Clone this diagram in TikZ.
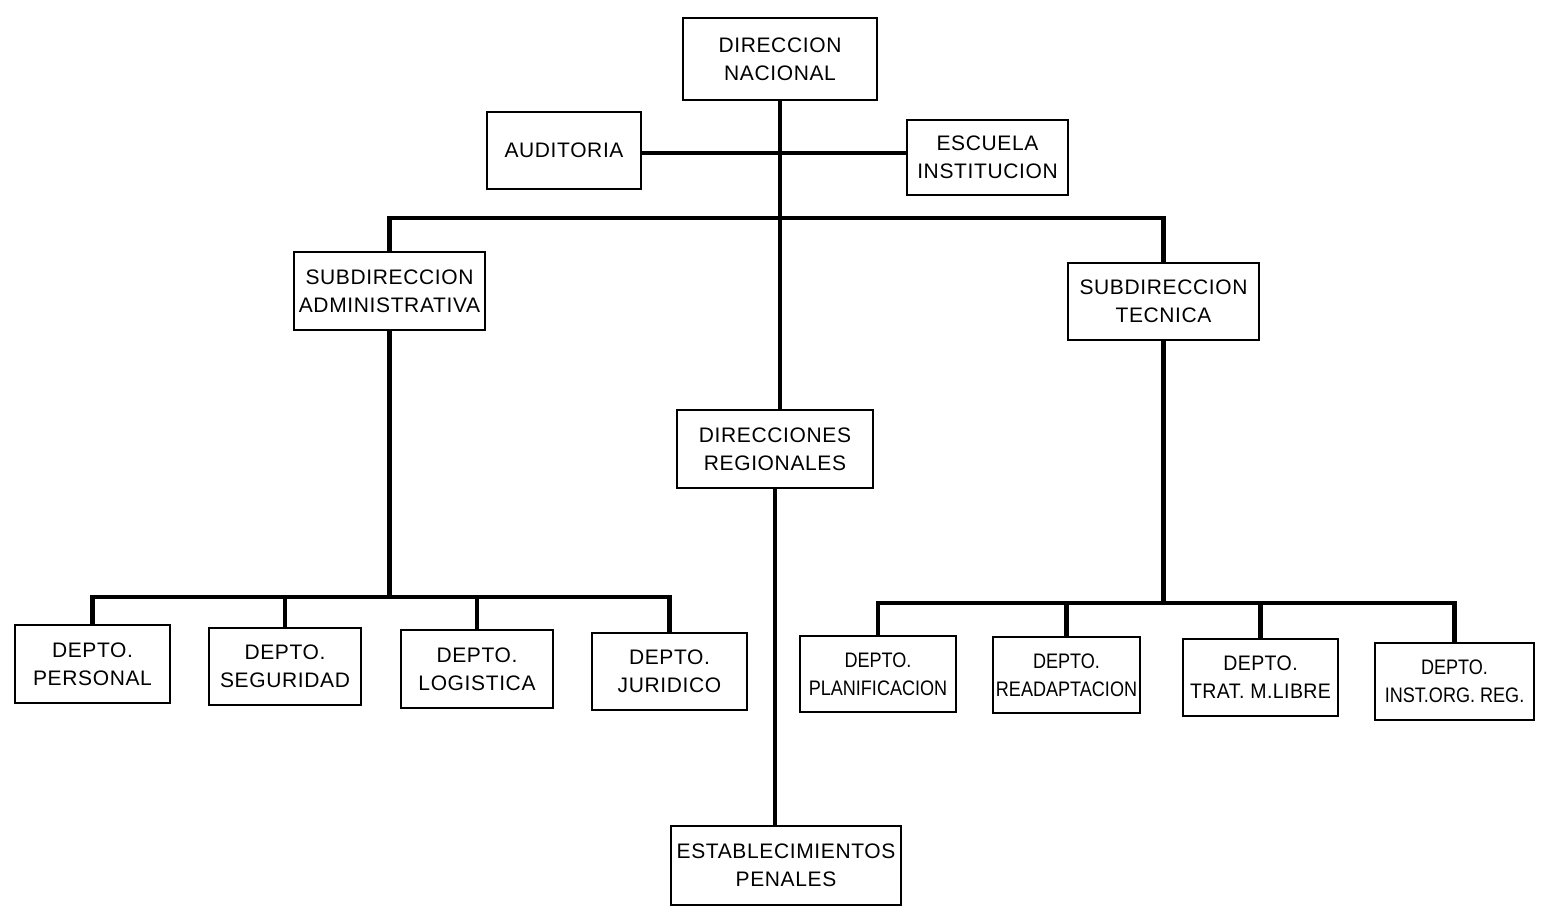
\documentclass[tikz,border=0pt]{standalone}
\usepackage{fontspec}
\setmainfont{Liberation Sans}[LetterSpace=3]
\newfontfamily\condfont{Liberation Sans}[FakeStretch=0.86]
\newfontfamily\semifont{Liberation Sans}[FakeStretch=0.93,LetterSpace=2]
\begin{document}
\begin{tikzpicture}[x=0.5pt,y=-0.5pt,
  box/.style={draw, line width=1.2pt, rectangle, align=center, inner sep=0pt,
    font=\fontsize{10.5}{14}\selectfont},
  cond/.style={font=\condfont\fontsize{10.5}{14}\selectfont},
  semi/.style={font=\semifont\fontsize{10.5}{14}\selectfont},
  conn/.style={line width=2.2pt, line join=miter}]
\useasboundingbox (0,0) rectangle (1541,916);
% top level
\node[box, minimum width=97pt, minimum height=41pt] (dn) at (780,59) {DIRECCION\\NACIONAL};
\node[box, minimum width=77pt, minimum height=38.5pt] (aud) at (564,150.5) {AUDITORIA};
\node[box, minimum width=80.5pt, minimum height=37.5pt] (esc) at (987.5,157.5) {ESCUELA\\INSTITUCION};
\node[box, minimum width=95.5pt, minimum height=39pt] (sa) at (389.5,291) {SUBDIRECCION\\ADMINISTRATIVA};
\node[box, minimum width=95.5pt, minimum height=38.5pt] (st) at (1163.5,301.5) {SUBDIRECCION\\TECNICA};
\node[box, minimum width=98pt, minimum height=39pt] (dr) at (775,449) {DIRECCIONES\\REGIONALES};
\node[box, minimum width=115pt, minimum height=39.5pt] (ep) at (786,865.5) {ESTABLECIMIENTOS\\PENALES};
% departments
\node[box, minimum width=77.5pt, minimum height=39pt] (d1) at (92.5,664) {DEPTO.\\PERSONAL};
\node[box, minimum width=76pt, minimum height=38.5pt] (d2) at (285,666.5) {DEPTO.\\SEGURIDAD};
\node[box, minimum width=76pt, minimum height=39pt] (d3) at (477,669) {DEPTO.\\LOGISTICA};
\node[box, minimum width=77.5pt, minimum height=38.5pt] (d4) at (669.5,671.5) {DEPTO.\\JURIDICO};
\node[box, cond, minimum width=78pt, minimum height=38pt] (d5) at (878,674) {DEPTO.\\PLANIFICACION};
\node[box, cond, minimum width=73.5pt, minimum height=38pt] (d6) at (1066.5,675) {DEPTO.\\READAPTACION};
\node[box, semi, minimum width=77.5pt, minimum height=38.5pt] (d7) at (1260.5,677.5) {DEPTO.\\TRAT. M.LIBRE};
\node[box, cond, minimum width=79.5pt, minimum height=38.5pt] (d8) at (1454.5,681.5) {DEPTO.\\INST.ORG. REG.};
% bar coordinates
\coordinate (bar) at (0,218);
\coordinate (audy) at (0,153);
\coordinate (lbar) at (0,597);
\coordinate (rbar) at (0,603);
% connectors
\draw[conn] (dn.south) -- (dn.south |- dr.north);
\draw[conn] (aud.east |- audy) -- (esc.west |- audy);
\draw[conn] (sa.north) -- (sa.north |- bar) -- (st.north |- bar) -- (st.north);
\draw[conn] (dr.south) -- (dr.south |- ep.north);
\draw[conn] (sa.south) -- (sa.south |- lbar);
\draw[conn] (d1.north) -- (d1.north |- lbar) -- (d4.north |- lbar) -- (d4.north);
\draw[conn] (d2.north) -- (d2.north |- lbar);
\draw[conn] (d3.north) -- (d3.north |- lbar);
\draw[conn] (st.south) -- (st.south |- rbar);
\draw[conn] (d5.north) -- (d5.north |- rbar) -- (d8.north |- rbar) -- (d8.north);
\draw[conn] (d6.north) -- (d6.north |- rbar);
\draw[conn] (d7.north) -- (d7.north |- rbar);
\end{tikzpicture}
\end{document}
